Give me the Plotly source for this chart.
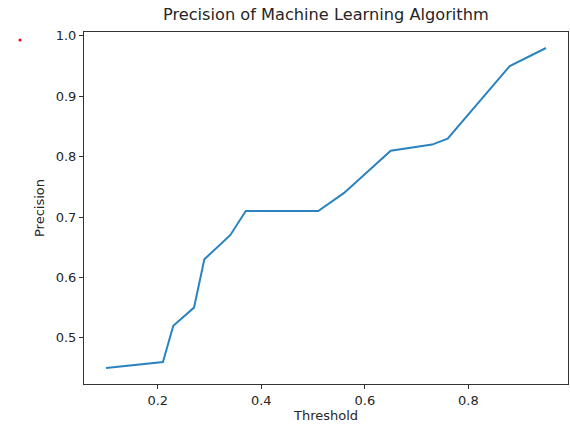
import plotly.graph_objects as go

threshold = [0.10, 0.21, 0.23, 0.27, 0.29, 0.34, 0.37, 0.51, 0.56, 0.65, 0.73, 0.76, 0.88, 0.95]
precision = [0.45, 0.46, 0.52, 0.55, 0.63, 0.67, 0.71, 0.71, 0.74, 0.81, 0.82, 0.83, 0.95, 0.98]
x_ticks = [0.2, 0.4, 0.6, 0.8]
y_ticks = [0.5, 0.6, 0.7, 0.8, 0.9, 1.0]

fig = go.Figure()
fig.add_trace(go.Scatter(x=threshold, y=precision, mode="lines",
                         line=dict(color="#2a83c0", width=2), showlegend=False))

xspan = max(threshold) - min(threshold)
yspan = max(precision) - min(precision)
axis_common = dict(showline=True, linecolor="#333333", linewidth=1, mirror=True,
                   ticks="outside", ticklen=4, tickcolor="#333333", showgrid=False,
                   zeroline=False, automargin=False, tickfont=dict(size=13, color="#262626"))

fig.update_layout(
    width=570, height=425,
    margin=dict(l=84, r=2, t=32, b=41),
    paper_bgcolor="white", plot_bgcolor="white",
    font=dict(family="DejaVu Sans", color="#262626"),
    title=dict(text="Precision of Machine Learning Algorithm", x=0.5716, xanchor="center",
               y=0.967, yanchor="middle", font=dict(size=16.2, color="#262626")),
    xaxis=dict(range=[min(threshold) - 0.05 * xspan, max(threshold) + 0.05 * xspan],
               tickvals=x_ticks, ticktext=[f"{v:.1f}" for v in x_ticks],
               title=dict(text="Threshold", font=dict(size=13), standoff=4), **axis_common),
    yaxis=dict(range=[min(precision) - 0.05 * yspan, max(precision) + 0.05 * yspan],
               tickvals=y_ticks, ticktext=[f"{v:.1f}" for v in y_ticks],
               title=dict(text="Precision", font=dict(size=13), standoff=8), **axis_common),
    shapes=[dict(type="circle", xref="paper", yref="paper",
                 x0=-0.1353, x1=-0.1291, y0=0.9730, y1=0.9816,
                 fillcolor="red", line=dict(width=0))],
)

fig.write_html("out.html", config={"displayModeBar": False},
               post_script="document.body.style.margin='0';document.body.style.overflow='hidden';")
